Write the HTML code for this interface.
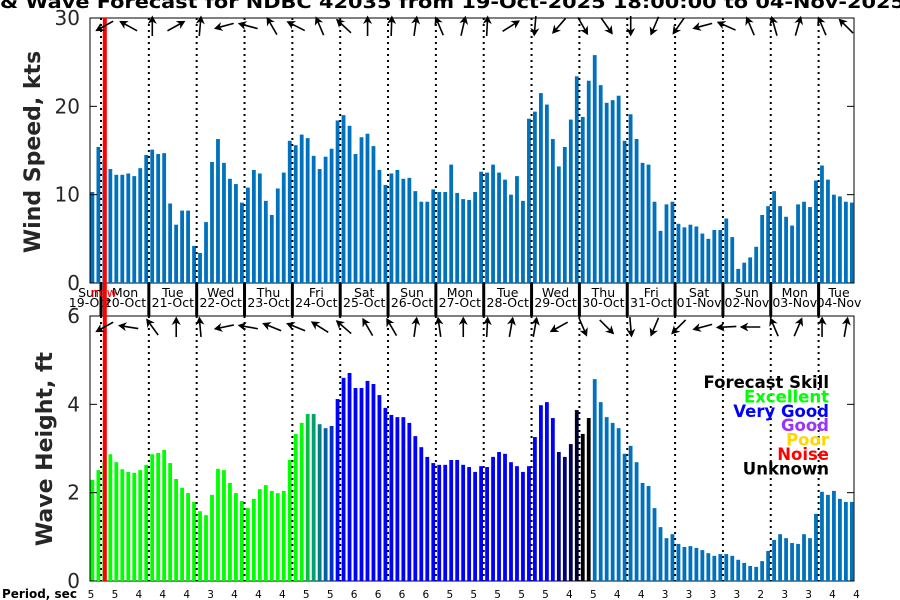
<!DOCTYPE html>
<html><head><meta charset="utf-8"><style>
body{margin:0;background:#fff}
svg{display:block;font-family:"DejaVu Sans","Liberation Sans",sans-serif}
</style></head><body>
<svg id="chart" width="900" height="600" viewBox="0 0 900 600">
<text x="0" y="8" font-size="18" font-weight="bold" textLength="905" lengthAdjust="spacingAndGlyphs">&amp; Wave Forecast for NDBC 42035 from 19-Oct-2025 18:00:00 to 04-Nov-2025</text>
<g id="g"></g>
</svg>
<script>
const windSpeed=[10.3,15.4,14,12.9,12.25,12.25,12.4,12.1,13.0,14.5,15.1,14.6,14.7,9.0,6.6,8.2,8.2,4.2,3.4,6.9,13.7,16.3,13.6,11.8,11.2,9.1,10.8,12.8,12.4,9.3,7.7,10.7,12.5,16.1,15.6,16.8,16.4,14.4,12.9,14.3,15.2,18.4,19.0,17.8,14.6,16.5,16.9,15.5,12.8,11.1,12.4,12.8,11.8,11.9,10.4,9.2,9.2,10.6,10.3,10.3,13.4,
10.2,9.5,9.4,10.3,12.6,12.5,13.4,12.5,11.7,10.0,12.1,9.3,18.6,19.4,21.5,20.2,16.3,13.2,15.4,18.5,23.4,18.8,22.9,25.8,22.4,20.4,20.7,21.2,16.1,19.1,16.3,13.6,13.4,9.2,5.9,8.9,9.2,6.7,6.3,6.6,6.4,5.6,5.0,6.0,6.0,7.3,5.2,1.6,2.3,2.9,4.1,7.7,8.7,10.4,8.7,7.5,6.5,8.9,9.2,8.6,11.6,13.3,11.7,10.0,9.8,9.2,9.1];
const waveHeight=[2.29,2.51,2.7,2.87,2.69,2.53,2.47,2.45,2.51,2.63,2.87,2.90,2.97,2.67,2.31,2.11,1.99,1.79,1.58,1.49,1.95,2.54,2.51,2.22,1.99,1.81,1.65,1.86,2.08,2.17,2.04,1.99,2.04,2.74,3.33,3.58,3.78,3.78,3.55,3.46,3.51,4.12,4.60,4.71,4.37,4.37,4.53,4.46,4.21,3.92,3.76,3.71,3.71,3.58,3.28,3.03,2.81,2.67,2.63,2.63,2.74,
2.74,2.63,2.58,2.47,2.60,2.58,2.81,2.92,2.88,2.69,2.60,2.47,2.60,3.26,3.98,4.05,3.69,2.92,2.81,3.10,3.87,3.33,3.69,4.57,4.05,3.71,3.58,3.46,2.88,3.06,2.69,2.22,2.15,1.65,1.22,0.97,1.06,0.84,0.77,0.79,0.75,0.70,0.63,0.57,0.61,0.61,0.57,0.48,0.41,0.34,0.32,0.45,0.68,0.93,1.06,0.97,0.86,0.84,1.06,0.97,1.52,2.02,1.95,2.04,1.86,1.79,1.79];
const skillLevel=[];
for(let i=0;i<128;i++){skillLevel.push(i<36?'#00ff00':(i<41?['#00c040','#00a070','#008080','#0060a0','#0030d0'][i-36]:(i<78?'#0000ff':(i<84?['#000090','#000070','#000050','#000030','#000000','#000000'][i-78]:'#0072bd'))));}
const windDir=[241,299,0,61,5,255,285,330,297,337,313,0,2,8,337,13,3,58,185,221,150,145,180,203,215,255,294,337,344,16,337,315];
const waveDir=[241,279,324,0,355,258,280,292,292,302,311,330,330,8,352,0,3,10,10,241,157,135,175,203,225,255,267,270,337,23,0,10];
const periods=[5,5,4,4,4,3,4,4,4,5,5,6,6,6,6,5,5,5,5,5,4,5,4,4,3,3,3,3,2,3,3,4,4];
const dayNames=['Sun','Mon','Tue','Wed','Thu','Fri','Sat','Sun','Mon','Tue','Wed','Thu','Fri','Sat','Sun','Mon','Tue'];
const dayDates=['19-Oct','20-Oct','21-Oct','22-Oct','23-Oct','24-Oct','25-Oct','26-Oct','27-Oct','28-Oct','29-Oct','30-Oct','31-Oct','01-Nov','02-Nov','03-Nov','04-Nov'];
const windTicks=[0,10,20,30];
const waveTicks=[0,2,4,6];

const NS='http://www.w3.org/2000/svg';
const G=document.getElementById('g');
const X0=90,X1=854,SLOT=5.98;
const T1=18,B1=283,T2=316,B2=581;
function xs(i){return 90.5+i*SLOT;}
function yW(v){return B1-(v/30)*(B1-T1);}
function yH(v){return B2-(v/6)*(B2-T2);}
function mk(tag,attrs,parent){const e=document.createElementNS(NS,tag);for(const k in attrs)e.setAttribute(k,attrs[k]);(parent||G).appendChild(e);return e;}

let f1=mk('rect',{x:X0,y:T1,width:X1-X0,height:B1-T1,fill:'none',stroke:'#000','stroke-width':1});


let f2=mk('rect',{x:X0,y:T2,width:X1-X0,height:B2-T2,fill:'none',stroke:'#000','stroke-width':1});



windSpeed.forEach((v,i)=>{
 const r=mk('rect',{x:xs(i),y:yW(v),width:3.8,height:B1-yW(v),fill:'#0072bd'});
 
 
});
waveHeight.forEach((v,i)=>{
 const r=mk('rect',{x:xs(i),y:yH(v),width:3.8,height:B2-yH(v),fill:skillLevel[i]});
 
 
});

for(let d=0;d<16;d++){
 const x=101+d*47.84;
 [[T1,B1],[T2,B2]].forEach(([a,b])=>{
  const l=mk('line',{x1:x,y1:a,x2:x,y2:b,stroke:'#000','stroke-width':2,'stroke-dasharray':'2 4'});
  
  
 });
 const s=mk('line',{x1:x,y1:B1,x2:x,y2:T2,stroke:'#000','stroke-width':3});
 
 
}
dayNames.forEach((n,d)=>{
 let cx=d===0?90:(d===16?839:101+(d-1)*47.84+24);
 const t=mk('text',{x:cx,y:297,'font-size':12.5,'text-anchor':'middle',fill:'#000'});t.textContent=n;
 
 
 const t2=mk('text',{x:cx,y:307,'font-size':12.5,'text-anchor':'middle',fill:'#000'});t2.textContent=dayDates[d];
 
 
});
const nw=mk('rect',{x:102.8,y:T1,width:4,height:B2-T1,fill:'#ff0000'});


const nt=mk('text',{x:104,y:297,'font-size':12.5,'text-anchor':'middle',fill:'#ff0000'});nt.textContent='now';



windTicks.forEach(v=>{
 const y=yW(v);
 mk('line',{x1:X0,y1:y,x2:X0+7,y2:y,stroke:'#000'});mk('line',{x1:X1-7,y1:y,x2:X1,y2:y,stroke:'#000'});
 const t=mk('text',{x:80,y:y+7,'font-size':20,'text-anchor':'end',fill:'#262626'});t.textContent=v;
 
 
});
waveTicks.forEach(v=>{
 const y=yH(v);
 mk('line',{x1:X0,y1:y,x2:X0+7,y2:y,stroke:'#000'});mk('line',{x1:X1-7,y1:y,x2:X1,y2:y,stroke:'#000'});
 const t=mk('text',{x:80,y:y+7,'font-size':20,'text-anchor':'end',fill:'#262626'});t.textContent=v;
 
 
});
const a1=mk('text',{x:0,y:0,'font-size':22,'font-weight':'bold','text-anchor':'middle',fill:'#262626',transform:'translate(40,152) rotate(-90)'});a1.textContent='Wind Speed, kts';


const a2=mk('text',{x:0,y:0,'font-size':22,'font-weight':'bold','text-anchor':'middle',fill:'#262626',transform:'translate(52,449) rotate(-90)'});a2.textContent='Wave Height, ft';



function arrow(cx,cy,deg,name){
 const g=mk('g',{transform:`translate(${cx},${cy}) rotate(${deg})`});
 
 
 mk('line',{x1:0,y1:10,x2:0,y2:-9,stroke:'#000','stroke-width':1.6},g);
 mk('path',{d:'M0,-10.5 L-4.5,-2 L0,-4.5 L4.5,-2 Z',fill:'#000'},g);
}
windDir.forEach((d,k)=>arrow(xs(2+4*k)+2,26,d,'wind-direction-arrow'));
waveDir.forEach((d,k)=>arrow(xs(2+4*k)+2,327,d,'wave-direction-arrow'));

const pl=mk('text',{x:2,y:598,'font-size':12,'font-weight':'bold',fill:'#000'});pl.textContent='Period, sec';


periods.forEach((p,k)=>{
 const t=mk('text',{x:xs(4*k)+0.5,y:598,'font-size':10.5,'text-anchor':'middle',fill:'#000'});t.textContent=p;
 
 
});

const leg=[['Forecast Skill','#000'],['Excellent','#00ff00'],['Very Good','#0000ff'],['Good','#9933ff'],['Poor','#ffd700'],['Noise','#ff0000'],['Unknown','#000']];
leg.forEach((e,i)=>{
 const t=mk('text',{x:829,y:388+i*14.4,'font-size':16.5,'font-weight':'bold','text-anchor':'end',fill:e[1]});t.textContent=e[0];
 
 
});
</script>
</body></html>
